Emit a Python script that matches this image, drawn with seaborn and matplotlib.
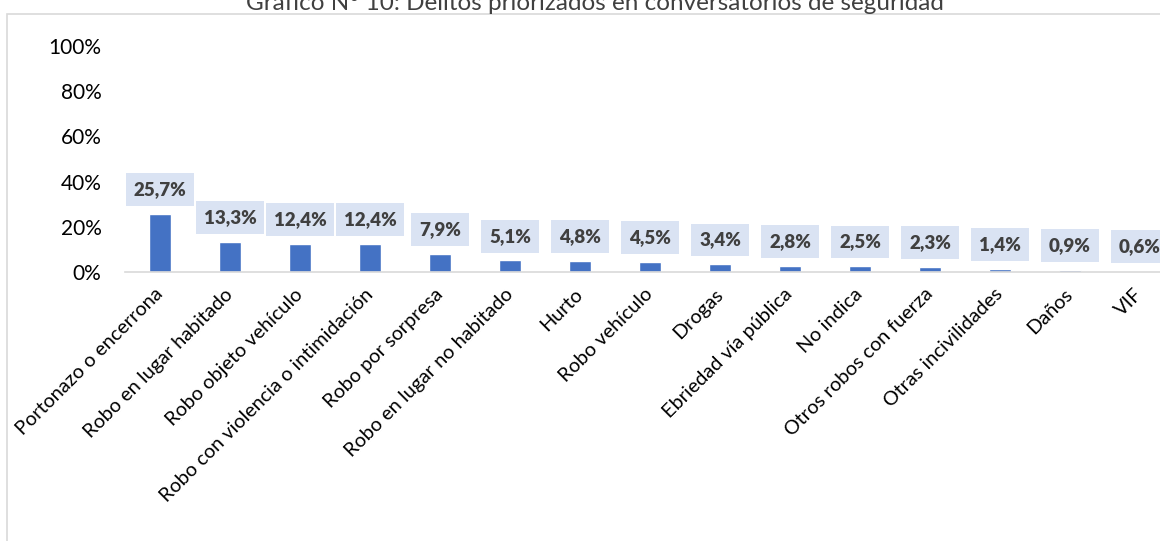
#!/usr/bin/env python3

import seaborn as sns
import matplotlib.pyplot as plt
import pandas as pd
from matplotlib.patches import Rectangle
from matplotlib.ticker import FuncFormatter

categories = ["Portonazo o encerrona", "Robo en lugar habitado", "Robo objeto vehículo",
              "Robo con violencia o intimidación", "Robo por sorpresa",
              "Robo en lugar no habitado", "Hurto", "Robo vehículo", "Drogas",
              "Ebriedad vía pública", "No indica", "Otros robos con fuerza",
              "Otras incivilidades", "Daños", "VIF"]
values = [25.7, 13.3, 12.4, 12.4, 7.9, 5.1, 4.8, 4.5, 3.4, 2.8, 2.5, 2.3, 1.4, 0.9, 0.6]
title = "Gráfico N° 10: Delitos priorizados en conversatorios de seguridad"

bar_color = "#4472C4"
label_bg = "#DAE3F3"
text_color = "#404040"


def plotFig():
    d = pd.DataFrame({"cat": categories, "val": values})

    sns.set_style("white")
    plt.rcParams["font.family"] = ["Lato", "DejaVu Sans"]

    fig = plt.figure(figsize=(11.6, 5.41), dpi=100)
    ax = fig.add_axes([125 / 1160, 1 - 272 / 541, 1050 / 1160, 226 / 541])

    sns.barplot(data=d, x="cat", y="val", color=bar_color, width=0.32,
                saturation=1, ax=ax)

    # data labels in light blue boxes
    for i, v in enumerate(values):
        ax.annotate(f"{v:.1f}%".replace(".", ","), xy=(i, v),
                    xytext=(0, 17.5), textcoords="offset points",
                    ha="center", va="center", fontsize=13.5, fontweight="heavy",
                    color=text_color,
                    bbox=dict(boxstyle="square,pad=0.42", fc=label_bg, ec="none"))

    ax.set_xlim(-0.5, len(categories) - 0.5)
    ax.set_ylim(0, 100)
    ax.set_yticks(range(0, 101, 20))
    ax.yaxis.set_major_formatter(FuncFormatter(lambda y, p: f"{int(y)}%"))
    ax.tick_params(axis="y", length=0, pad=17, labelsize=15, labelcolor="#000000")
    ax.tick_params(axis="x", length=0, pad=14, labelsize=14.3, labelcolor="#000000")
    ax.set_xticks(range(len(categories)))
    ax.set_xticklabels(categories, rotation=45, ha="right", va="center",
                       rotation_mode="anchor")
    ax.set(xlabel="", ylabel="")
    ax.grid(False)
    for s in ["top", "right", "left"]:
        ax.spines[s].set_visible(False)
    ax.spines["bottom"].set_color("#D9D9D9")
    ax.spines["bottom"].set_linewidth(1.2)

    # chart area border
    fig.patches.append(Rectangle((7 / 1160, -0.05), 1.1, 1 - 14 / 541 + 0.05,
                                 transform=fig.transFigure, fill=False,
                                 ec="#D9D9D9", lw=1.2))
    fig.text(595 / 1160, 1 - 3.5 / 541, title, ha="center", va="center",
             fontsize=17.5, color=text_color)

    plt.savefig("out.png", dpi=100)


if __name__ == "__main__":
    plotFig()
